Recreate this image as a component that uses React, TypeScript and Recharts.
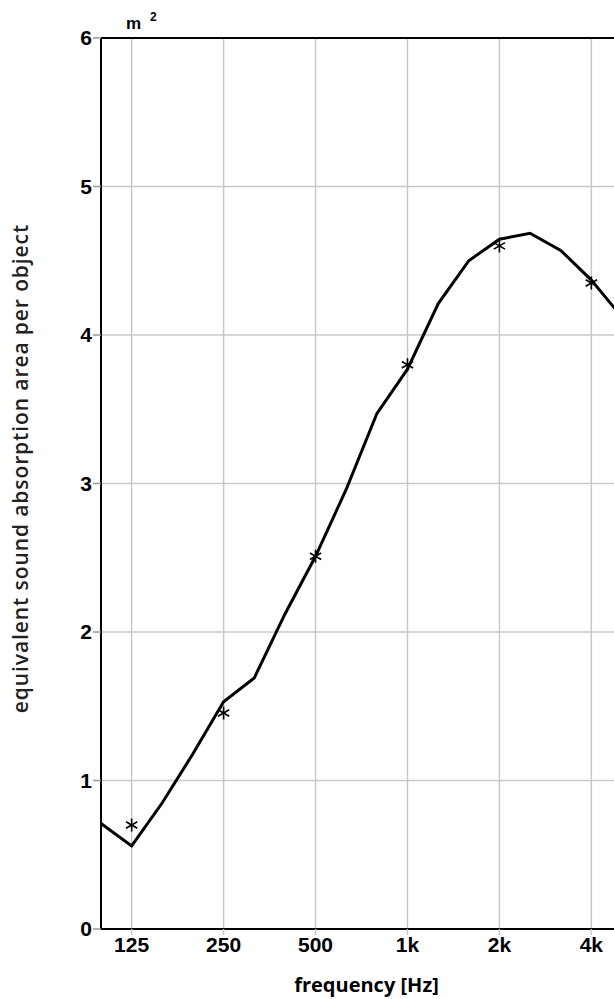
import React from 'react'
import {
  CartesianGrid,
  Label,
  Line,
  LineChart,
  ReferenceLine,
  XAxis,
  YAxis,
} from 'recharts'

// third-octave bands, 100 Hz .. 5 kHz
const bands = [
  '100', '125', '160', '200', '250', '315', '400', '500', '630',
  '800', '1k', '1.25k', '1.6k', '2k', '2.5k', '3.15k', '4k', '5k',
]

// third-octave curve (m² per object)
const thirdOctave = [
  0.71, 0.56, 0.85, 1.18, 1.53, 1.69, 2.12, 2.51, 2.96,
  3.47, 3.77, 4.21, 4.5, 4.645, 4.685, 4.57, 4.37, 4.12,
]

// octave values (asterisks), null where no octave band
const octave = [
  null, 0.7, null, null, 1.455, null, null, 2.51, null,
  null, 3.8, null, null, 4.6, null, null, 4.35, null,
]

const octaveTicks = [1, 4, 7, 10, 13, 16]
const yTicks = [0, 1, 2, 3, 4, 5, 6]

const data = bands.map((band, i) => ({
  idx: i,
  band,
  value: thirdOctave[i],
  octave: octave[i],
}))

const tickFont = {
  fontFamily: '"Liberation Sans", Arial, sans-serif',
  fontWeight: 700,
  fontSize: 21,
  fill: '#000',
}

const StarDot = (props: any) => {
  const { cx, cy, index } = props
  if (cx == null || cy == null || props.value == null) return <g key={index} />
  const r = 6.5
  const d = r * 0.866
  return (
    <g key={index} stroke="#000" strokeWidth={1.6}>
      <line x1={cx} y1={cy - r} x2={cx} y2={cy + r} />
      <line x1={cx - d} y1={cy - r / 2} x2={cx + d} y2={cy + r / 2} />
      <line x1={cx - d} y1={cy + r / 2} x2={cx + d} y2={cy - r / 2} />
    </g>
  )
}

const YTitle = (props: any) => {
  const { viewBox } = props
  const x = 28
  const y = viewBox.y + viewBox.height / 2 - 15
  return (
    <text
      x={x}
      y={y}
      transform={`rotate(-90, ${x}, ${y})`}
      textAnchor="middle"
      fontFamily='"Open Sans", sans-serif'
      fontWeight={600}
      fontSize={21}
      letterSpacing={0.9}
      fill="#222"
    >
      equivalent sound absorption area per object
    </text>
  )
}

const App = () => {
  return (
    <div
      style={{
        position: 'fixed',
        left: 0,
        top: 0,
        width: 614,
        height: 999,
        overflow: 'hidden',
        background: '#fff',
      }}
    >
      <svg
        width={200}
        height={40}
        style={{ position: 'absolute', left: 0, top: 0 }}
        fontFamily='"Liberation Sans", Arial, sans-serif'
        fontWeight={700}
      >
        <text x={126} y={29} fontSize={17}>m</text>
        <text x={150} y={20.5} fontSize={12}>2</text>
      </svg>
      <div style={{ position: 'absolute', left: 0, top: 8 }}>
        <LineChart
          width={648}
          height={991}
          data={data}
          margin={{ top: 30, right: 26, bottom: 0, left: 8 }}
        >
          <CartesianGrid stroke="#c8c8c8" strokeWidth={1.5} />
          <XAxis
            dataKey="idx"
            type="number"
            domain={[0, 17]}
            ticks={octaveTicks}
            tickFormatter={(v: number) => bands[v]}
            interval={0}
            height={70}
            fontSize={21}
            tick={tickFont}
            tickLine={{ stroke: '#c8c8c8', strokeWidth: 1.5 }}
            tickSize={6}
            tickMargin={2}
            axisLine={{ stroke: '#000', strokeWidth: 2 }}
          >
            <Label
              value="frequency [Hz]"
              position="insideBottom"
              offset={7}
              dx={5}
              style={{
                fontFamily: '"Open Sans", sans-serif',
                fontWeight: 700,
                fontSize: 20,
                fill: '#000',
              }}
            />
          </XAxis>
          <YAxis
            type="number"
            domain={[0, 6]}
            ticks={yTicks}
            interval={0}
            width={93}
            fontSize={21}
            tick={tickFont}
            tickLine={{ stroke: '#999', strokeWidth: 1.5 }}
            tickSize={8}
            tickMargin={1}
            axisLine={{ stroke: '#000', strokeWidth: 2 }}
          >
            <Label content={YTitle} />
          </YAxis>
          <ReferenceLine y={6} stroke="#000" strokeWidth={2} />
          <Line
            dataKey="value"
            type="linear"
            stroke="#000"
            strokeWidth={3}
            dot={false}
            activeDot={false}
            isAnimationActive={false}
          />
          <Line
            dataKey="octave"
            type="linear"
            stroke="none"
            dot={StarDot}
            activeDot={false}
            isAnimationActive={false}
          />
        </LineChart>
      </div>
    </div>
  )
}

export default App
